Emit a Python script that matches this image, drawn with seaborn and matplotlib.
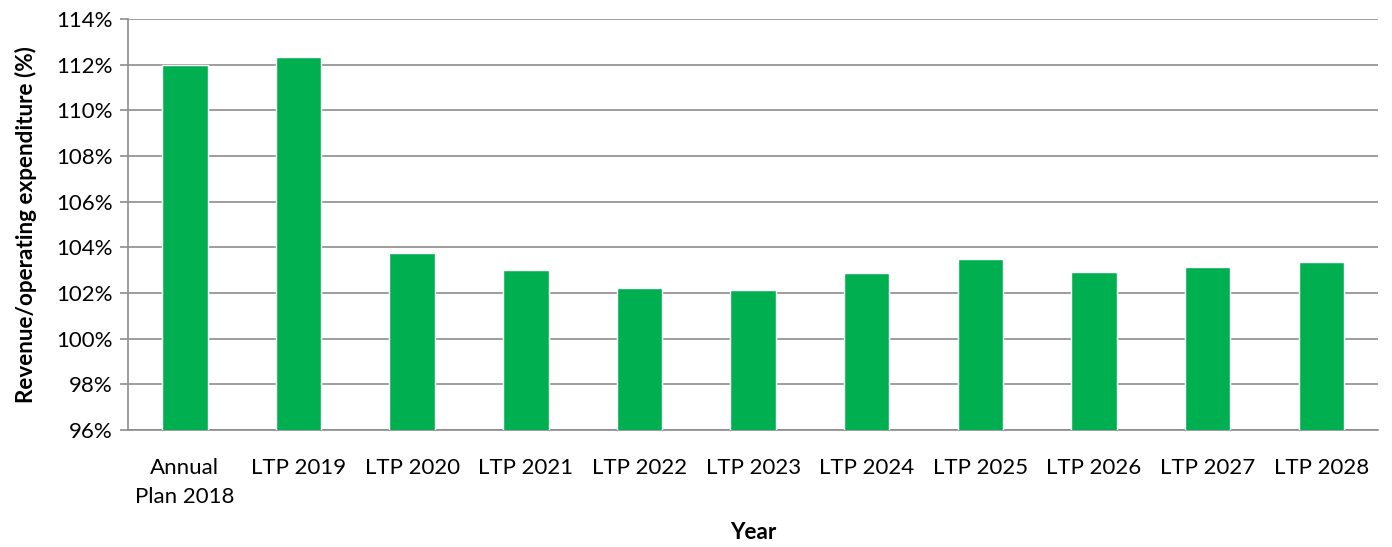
import matplotlib
matplotlib.use("Agg")
import matplotlib.pyplot as plt
import seaborn as sns
import pandas as pd
from matplotlib.ticker import FuncFormatter, MultipleLocator

categories = ["Annual\nPlan 2018", "LTP 2019", "LTP 2020", "LTP 2021", "LTP 2022",
              "LTP 2023", "LTP 2024", "LTP 2025", "LTP 2026", "LTP 2027", "LTP 2028"]
ratio_pct = [112.0, 112.33, 103.75, 102.99, 102.21, 102.15, 102.87, 103.48, 102.91, 103.15, 103.37]

df = pd.DataFrame({"Year": categories, "Ratio": ratio_pct})

sns.set_theme(style="white")
plt.rcParams["font.family"] = ["Lato", "DejaVu Sans"]

fig = plt.figure(figsize=(13.92, 5.47), dpi=100)
ax = fig.add_axes([0.092, 0.214, 0.898, 0.751])

sns.barplot(data=df, x="Year", y="Ratio", color="#00B050", saturation=1,
            width=0.4, ax=ax, zorder=3)

ax.set_ylim(96, 114)
ax.set_xlim(-0.5, len(categories) - 0.5)
ax.yaxis.set_major_locator(MultipleLocator(2))
ax.yaxis.set_major_formatter(FuncFormatter(lambda v, _: f"{v:.0f}%"))
ax.grid(axis="y", color="#8c8c8c", linewidth=1.2, zorder=0)
ax.set_axisbelow(True)

for side in ["top", "right"]:
    ax.spines[side].set_visible(False)
for side in ["left", "bottom"]:
    ax.spines[side].set_color("#8c8c8c")
    ax.spines[side].set_linewidth(1.2)

ax.tick_params(axis="y", which="major", direction="out", length=6, width=1.2,
               color="#8c8c8c", labelsize=16, labelcolor="black", left=True, pad=5)
ax.tick_params(axis="x", length=0, labelsize=16, labelcolor="black", pad=20)
for lbl in ax.get_xticklabels():
    lbl.set_linespacing(1.55)

ax.set_ylabel("Revenue/operating expenditure (%)", fontsize=16.2, fontweight="bold",
              color="black", labelpad=14)
ax.set_xlabel("Year", fontsize=16.2, fontweight="bold", color="black", labelpad=11)

fig.savefig("out.png", dpi=100, facecolor="white")
